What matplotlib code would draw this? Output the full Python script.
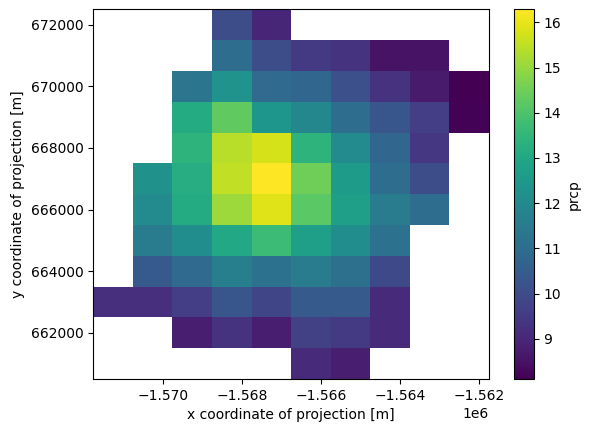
import numpy as np
import matplotlib
matplotlib.use("Agg")
import matplotlib.pyplot as plt

nan = np.nan

# cell centres of the grid
x_centers = [-1571255, -1570255, -1569255, -1568255, -1567255,
             -1566255, -1565255, -1564255, -1563255, -1562255]
y_centers = [672000, 671000, 670000, 669000, 668000, 667000,
             666000, 665000, 664000, 663000, 662000, 661000]

row_672000 = [nan, nan, nan, 10.0, 9.0, nan, nan, nan, nan, nan]
row_671000 = [nan, nan, nan, 11.0, 10.0, 9.5, 9.3, 8.5, 8.5, nan]
row_670000 = [nan, nan, 11.3, 12.3, 10.9, 10.8, 10.1, 9.3, 8.7, 8.11]
row_669000 = [nan, nan, 13.1, 14.3, 12.4, 11.9, 11.0, 10.3, 9.6, 8.15]
row_668000 = [nan, nan, 13.4, 15.4, 15.75, 13.4, 12.0, 10.8, 9.4, nan]
row_667000 = [nan, 12.2, 13.2, 15.5, 16.29, 14.5, 12.6, 11.0, 10.0, nan]
row_666000 = [nan, 12.0, 13.1, 15.1, 15.9, 14.2, 12.7, 11.5, 11.0, nan]
row_665000 = [nan, 11.5, 12.1, 13.0, 13.7, 12.7, 12.1, 11.2, nan, nan]
row_664000 = [nan, 10.4, 10.9, 11.6, 11.2, 11.5, 11.1, 9.9, nan, nan]
row_663000 = [9.2, 9.2, 9.6, 10.3, 9.8, 10.4, 10.4, 9.1, nan, nan]
row_662000 = [nan, nan, 8.8, 9.3, 8.8, 9.7, 9.5, 9.1, nan, nan]
row_661000 = [nan, nan, nan, nan, nan, 9.1, 8.8, nan, nan, nan]

prcp = np.array([row_672000, row_671000, row_670000, row_669000,
                 row_668000, row_667000, row_666000, row_665000,
                 row_664000, row_663000, row_662000, row_661000])

W, H = 589, 432
fig = plt.figure(figsize=(W / 100, H / 100), dpi=100)
ax = fig.add_axes([93.3 / W, 1 - 379 / H, 395.7 / W, 369.7 / H])
cax = fig.add_axes([514.3 / W, 1 - 379 / H, 19.3 / W, 369.7 / H])

mesh = ax.pcolormesh(x_centers, y_centers, prcp, cmap="viridis", shading="nearest")
ax.set_xticks([-1570000, -1568000, -1566000, -1564000, -1562000])
ax.set_yticks([662000, 664000, 666000, 668000, 670000, 672000])
ax.set_xlabel("x coordinate of projection [m]")
ax.set_ylabel("y coordinate of projection [m]")

cbar = fig.colorbar(mesh, cax=cax)
cbar.set_label("prcp")

fig.savefig("out.png", dpi=100)
